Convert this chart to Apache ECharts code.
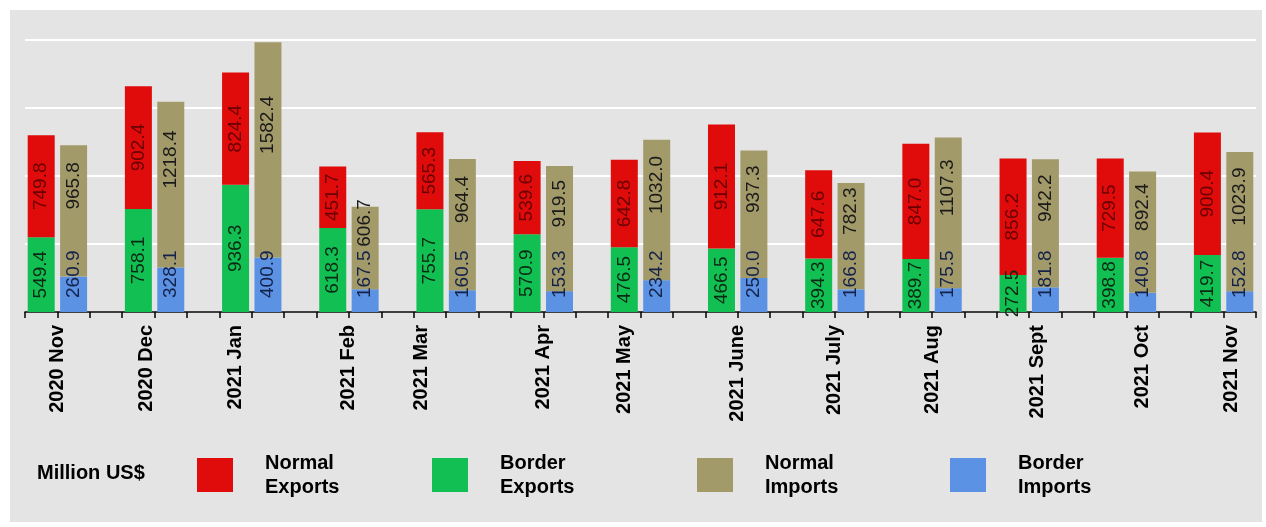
<!DOCTYPE html>
<html>
<head>
<meta charset="utf-8">
<script src="https://cdn.jsdelivr.net/npm/echarts@6/dist/echarts.min.js"></script>
<style>
html,body{margin:0;padding:0;background:#fff;}
#chart{width:1266px;height:527px;}
</style>
</head>
<body>
<div id="chart"></div>
<script>
// ---- data ----
const months = ['2020 Nov','2020 Dec','2021 Jan','2021 Feb','2021 Mar','2021 Apr','2021 May','2021 June','2021 July','2021 Aug','2021 Sept','2021 Oct','2021 Nov'];
const normalExports = [749.8, 902.4, 824.4, 451.7, 565.3, 539.6, 642.8, 912.1, 647.6, 847.0, 856.2, 729.5, 900.4];
const borderExports = [549.4, 758.1, 936.3, 618.3, 755.7, 570.9, 476.5, 466.5, 394.3, 389.7, 272.5, 398.8, 419.7];
const normalImports = [965.8, 1218.4, 1582.4, 606.7, 964.4, 919.5, 1032.0, 937.3, 782.3, 1107.3, 942.2, 892.4, 1023.9];
const borderImports = [260.9, 328.1, 400.9, 167.5, 160.5, 153.3, 234.2, 250.0, 166.8, 175.5, 181.8, 140.8, 152.8];
const unitLabel = 'Million US$';

// ---- layout (not data) ----
const SLOTS_PER_MONTH = 3;               // export bar, import bar, gap
const nSlots = months.length * SLOTS_PER_MONTH - 1;
const labelQuarterPos = [4,15,26,40,49,64,74,88,100,112,125,138,149]; // month label anchors in quarter-slot units

const slotNames = [];
for (let i = 0; i < nSlots; i++) slotNames.push('s' + i);
function toSlots(arr, off) {
  const out = new Array(nSlots).fill('-');
  arr.forEach((v, i) => { out[i * SLOTS_PER_MONTH + off] = v; });
  return out;
}
const labelMap = {};
labelQuarterPos.forEach((p, i) => { labelMap[p] = months[i]; });

const FONT = 'Liberation Sans, Arial, sans-serif';
const fmt = p => (typeof p.value === 'number') ? p.value.toFixed(1) : '';
const baseLabel = {show: true, rotate: 90, fontFamily: FONT, fontSize: 19, formatter: fmt};

const chart = echarts.init(document.getElementById('chart'), null, {renderer: 'canvas'});
chart.setOption({
  backgroundColor: '#ffffff',
  animation: false,
  graphic: [{type: 'rect', z: -10, silent: true, shape: {x: 10, y: 10, width: 1252, height: 512}, style: {fill: '#e4e4e4'}}],
  title: {text: unitLabel, left: 32, top: 458, textStyle: {fontFamily: FONT, fontWeight: 'bold', fontSize: 20, color: '#000'}},
  legend: [
    ['Normal Exports', 192], ['Border Exports', 427], ['Normal Imports', 692], ['Border Imports', 945]
  ].map(([n, l]) => ({
    data: [n], left: l, top: 433, itemWidth: 36, itemHeight: 34, icon: 'rect', selectedMode: false,
    formatter: name => name.replace(' ', '\n'),
    textStyle: {fontFamily: FONT, fontWeight: 'bold', fontSize: 20, lineHeight: 24, color: '#000', padding: [26, 0, 0, 27]}
  })),
  grid: {left: 25, right: 10, top: 40, bottom: 215, containLabel: false},
  xAxis: [
    {type: 'category', data: slotNames, boundaryGap: true,
     axisLine: {lineStyle: {color: '#000', width: 1.5}},
     axisTick: {show: true, interval: 0, length: 6, lineStyle: {color: '#000', width: 1.5}},
     axisLabel: {show: false}, splitLine: {show: false}},
    {type: 'value', min: 0, max: nSlots * 4, interval: 1, position: 'bottom',
     axisLine: {show: false}, axisTick: {show: false}, splitLine: {show: false},
     axisLabel: {rotate: 90, margin: 13, fontFamily: FONT, fontWeight: 'bold', fontSize: 20, color: '#000',
                 showMinLabel: true, showMaxLabel: true,
                 formatter: v => labelMap[v] || ''}}
  ],
  yAxis: {type: 'value', min: 0, max: 2000, interval: 500,
          axisLine: {show: false}, axisTick: {show: false}, axisLabel: {show: false},
          splitLine: {lineStyle: {color: '#ffffff', width: 2}}},
  series: [
    {name: 'Border Exports', type: 'bar', stack: 'exp', barWidth: 27, barGap: '-100%', data: toSlots(borderExports, 0),
     itemStyle: {color: '#12bf52'},
     label: Object.assign({}, baseLabel, {position: 'inside', align: 'center', verticalAlign: 'middle', color: '#0b2a14'})},
    {name: 'Normal Exports', type: 'bar', stack: 'exp', barWidth: 27, barGap: '-100%', data: toSlots(normalExports, 0),
     itemStyle: {color: '#e00b0b'},
     label: Object.assign({}, baseLabel, {position: 'inside', align: 'center', verticalAlign: 'middle', color: '#6a0000'})},
    {name: 'Border Imports', type: 'bar', stack: 'imp', barWidth: 27, barGap: '-100%', data: toSlots(borderImports, 1),
     itemStyle: {color: '#5b92e4'},
     label: Object.assign({}, baseLabel, {position: 'insideBottom', distance: 14, align: 'left', verticalAlign: 'middle', color: '#14224a'})},
    {name: 'Normal Imports', type: 'bar', stack: 'imp', barWidth: 27, barGap: '-100%', data: toSlots(normalImports, 1),
     itemStyle: {color: '#a39a69'},
     label: Object.assign({}, baseLabel, {position: 'inside', offset: [25, 0], align: 'center', verticalAlign: 'middle', color: '#1a1a1a'})}
  ]
});
</script>
</body>
</html>
